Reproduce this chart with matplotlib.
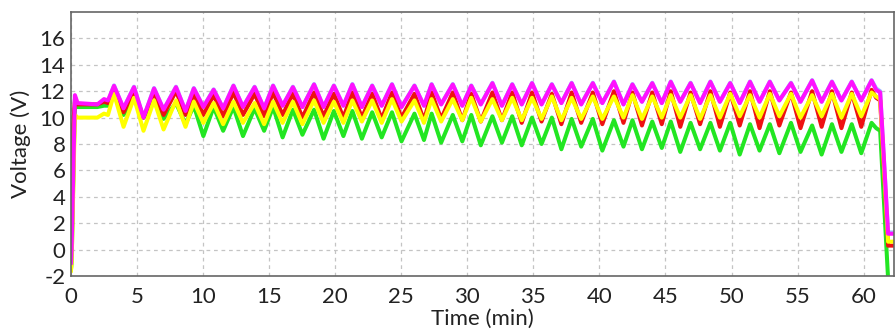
import matplotlib
matplotlib.use("Agg")
import matplotlib.pyplot as plt

# ---------------- data ----------------
peak_times = [3.26, 4.77, 6.29, 7.95, 9.30, 10.80, 12.30, 13.90, 15.30, 16.80,
              18.40, 19.90, 21.30, 22.80, 24.30, 26.00, 27.30, 28.90, 30.30, 31.90,
              33.40, 34.90, 36.40, 37.90, 39.50, 41.10, 42.50, 44.00, 45.40, 46.90,
              48.40, 49.90, 51.40, 52.90, 54.50, 56.10, 57.60, 59.10, 60.60]
trough_times = [3.98, 5.49, 7.01, 8.67, 10.02, 11.52, 13.02, 14.62, 16.02, 17.52,
                19.12, 20.62, 22.02, 23.52, 25.02, 26.72, 28.02, 29.62, 31.02, 32.62,
                34.12, 35.62, 37.12, 38.62, 40.22, 41.82, 43.22, 44.72, 46.12, 47.62,
                49.12, 50.62, 52.12, 53.62, 55.22, 56.82, 58.32, 59.82]
start_times = [0.0, 0.05, 0.3, 0.5, 2.0, 2.5, 2.8]
end_times = [60.95, 61.25, 61.85, 62.3]

magenta_start = [-1.0, 0.0, 11.7, 11.1, 11.0, 11.4, 11.3]
magenta_peaks = [12.4, 12.3, 12.2, 12.3, 12.2, 12.1, 12.4, 12.3, 12.4, 12.3,
                 12.5, 12.4, 12.5, 12.4, 12.5, 12.4, 12.5, 12.5, 12.4, 12.6,
                 12.5, 12.6, 12.5, 12.6, 12.6, 12.7, 12.5, 12.6, 12.7, 12.6,
                 12.7, 12.6, 12.7, 12.7, 12.6, 12.8, 12.7, 12.7, 12.8]
magenta_troughs = [10.7, 10.0, 10.6, 10.5, 10.8, 10.7, 10.8, 10.7, 10.9, 10.8,
                   10.8, 10.9, 10.8, 10.9, 10.8, 10.9, 11.0, 10.9, 11.0, 10.9,
                   11.0, 11.0, 11.1, 11.0, 11.1, 11.0, 11.2, 11.1, 11.2, 11.1,
                   11.2, 11.1, 11.2, 11.3, 11.2, 11.2, 11.3, 11.3]
magenta_end = [12.1, 11.9, 1.2, 1.2]

red_start = [2.0, 8.0, 11.2, 11.0, 11.0, 11.2, 11.1]
red_peaks = [12.2, 12.0, 11.9, 12.0, 11.8, 11.7, 11.9, 11.8, 11.9, 11.8,
             11.9, 11.8, 11.9, 11.8, 11.9, 11.8, 11.9, 11.9, 11.8, 11.9,
             11.9, 11.9, 11.8, 11.9, 11.9, 12.0, 11.9, 11.9, 12.0, 11.9,
             12.0, 11.9, 12.0, 12.0, 11.9, 12.0, 12.0, 11.9, 12.1]
red_troughs = [10.4, 10.0, 10.2, 10.2, 10.2, 10.1, 10.2, 10.1, 10.2, 10.0,
               10.1, 10.0, 10.0, 9.9, 10.0, 9.8, 9.9, 9.8, 9.7, 9.8,
               9.6, 9.7, 9.5, 9.6, 9.5, 9.6, 9.4, 9.5, 9.3, 9.5,
               9.3, 9.4, 9.2, 9.4, 9.2, 9.3, 9.2, 9.3]
red_end = [11.5, 11.3, 0.3, 0.3]

yellow_start = [-1.6, -1.0, 10.2, 10.0, 10.0, 10.3, 10.2]
yellow_peaks = [11.8, 11.5, 11.3, 11.3, 11.2, 11.1, 11.2, 11.1, 11.2, 11.2,
                11.3, 11.2, 11.3, 11.3, 11.4, 11.3, 11.4, 11.4, 11.5, 11.4,
                11.5, 11.5, 11.6, 11.5, 11.6, 11.6, 11.7, 11.6, 11.7, 11.7,
                11.7, 11.8, 11.7, 11.8, 11.8, 11.7, 11.8, 11.8, 11.9]
yellow_troughs = [9.3, 9.0, 9.1, 9.3, 9.6, 9.5, 9.6, 9.5, 9.6, 9.5,
                  9.6, 9.6, 9.7, 9.6, 9.7, 9.6, 9.7, 9.8, 9.7, 9.8,
                  9.8, 9.9, 9.8, 9.9, 9.9, 10.0, 9.9, 10.0, 10.0, 9.9,
                  10.0, 10.1, 10.0, 10.1, 10.0, 10.1, 10.0, 10.1]
yellow_end = [11.6, 11.4, 0.6, 0.6]

green_start = [-1.5, -1.0, 11.4, 10.8, 10.8, 10.9, 10.9]
green_peaks = [11.9, 11.4, 11.2, 11.1, 10.9, 10.8, 10.8, 10.7, 10.8, 10.6,
               10.6, 10.5, 10.5, 10.4, 10.4, 10.3, 10.3, 10.2, 10.2, 10.1,
               10.1, 10.0, 10.0, 9.9, 9.9, 9.8, 9.8, 9.7, 9.7, 9.6,
               9.6, 9.6, 9.5, 9.5, 9.6, 9.4, 9.5, 9.5, 9.6]
green_troughs = [10.2, 10.0, 9.9, 9.5, 8.6, 9.0, 8.6, 9.0, 8.5, 8.7,
                 8.4, 8.6, 8.4, 8.5, 8.2, 8.3, 8.1, 8.2, 7.9, 8.1,
                 7.9, 8.0, 7.6, 7.8, 7.5, 7.8, 7.6, 7.7, 7.4, 7.6,
                 7.5, 7.2, 7.5, 7.3, 7.4, 7.2, 7.4, 7.3]
green_end = [9.2, 9.0, -2.2, -2.2]

blue_start = [-1.0, 0.0, 11.6, 10.9, 10.9, 11.2, 11.2]
blue_end = [12.2, 12.0, 1.3, 1.3]

x_ticks = list(range(0, 61, 5))
y_ticks = list(range(-2, 17, 2))


def build(start_vals, peaks, troughs, end_vals):
    t = list(start_times)
    v = list(start_vals)
    for i, (tp, vp) in enumerate(zip(peak_times, peaks)):
        t.append(tp)
        v.append(vp)
        if i < len(trough_times):
            t.append(trough_times[i])
            v.append(troughs[i])
    t += end_times
    v += end_vals
    return t, v


fig = plt.figure(figsize=(8.96, 3.32), dpi=100)
ax = fig.add_axes([0.0792, 0.1687, 0.9186, 0.7952])

font = ["Lato", "DejaVu Sans"]
lw = 2.9

tb, vb = build(blue_start, [p + 0.04 for p in magenta_peaks], magenta_troughs, blue_end)
ax.plot(tb, vb, color="#9fb4ff", lw=lw)
tg, vg = build(green_start, green_peaks, green_troughs, green_end)
ax.plot(tg, vg, color="#22e622", lw=lw)
tr, vr = build(red_start, red_peaks, red_troughs, red_end)
ax.plot(tr, vr, color="#ee1111", lw=lw)
ty, vy = build(yellow_start, yellow_peaks, yellow_troughs, yellow_end)
ax.plot(ty, vy, color="#ffff00", lw=lw)
tm, vm = build(magenta_start, magenta_peaks, magenta_troughs, magenta_end)
ax.plot(tm, vm, color="#ff10ff", lw=lw)

ax.set_xlim(0, 62.3)
ax.set_ylim(-2, 18)
ax.set_xticks(x_ticks)
ax.set_yticks(y_ticks)
ax.set_xticklabels([str(x) for x in x_ticks], fontfamily=font, fontsize=16, color="#222222")
ax.set_yticklabels([str(y) for y in y_ticks], fontfamily=font, fontsize=16, color="#222222")
ax.tick_params(axis="x", length=0, pad=8)
ax.tick_params(axis="y", length=0, pad=4)
ax.grid(True, color="#c4c4c4", linestyle=(0, (3, 3)), linewidth=0.9)
ax.set_axisbelow(True)
for s in ax.spines.values():
    s.set_color("#666666")
    s.set_linewidth(1.2)

ax.set_xlabel("Time (min)", fontfamily=font, fontsize=16, color="#222222", labelpad=1)
ax.set_ylabel("Voltage (V)", fontfamily=font, fontsize=16, color="#222222", labelpad=6)

fig.savefig("out.png", dpi=100)
